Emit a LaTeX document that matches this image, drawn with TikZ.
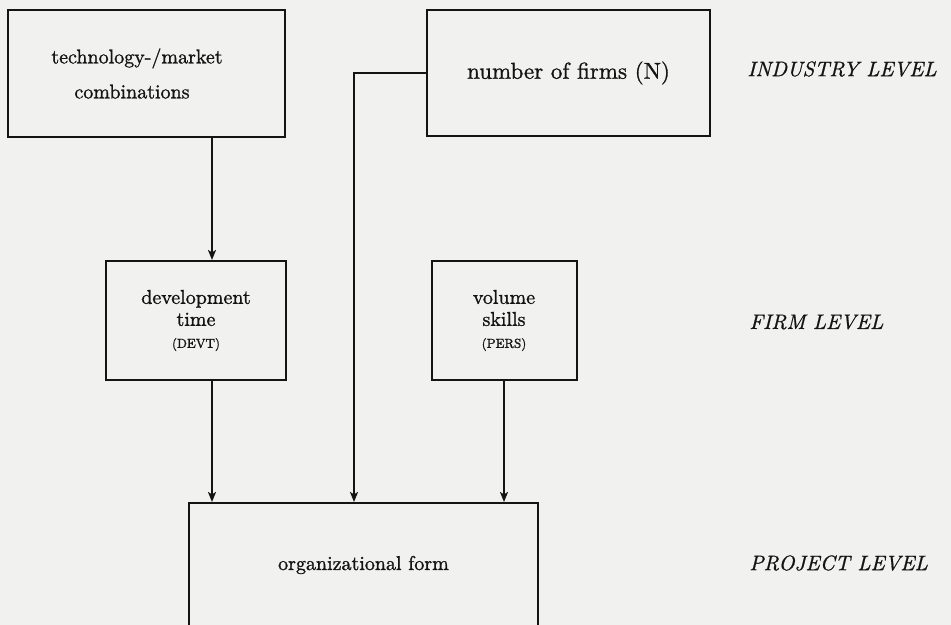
\documentclass[tikz,border=0pt]{standalone}
\usepackage{fontspec}
\newfontfamily\heavy{lmroman10-regular.otf}[FakeBold=1.2]
\newfontfamily\heavyit{lmroman10-italic.otf}[FakeBold=0.8]
\usetikzlibrary{arrows.meta}
\definecolor{paper}{RGB}{241,241,239}
\definecolor{ink}{RGB}{20,20,20}
\begin{document}
\begin{tikzpicture}[x=0.5pt,y=-0.5pt,
  box/.style={draw=ink, text=ink, line width=1pt, inner sep=0pt, align=center,
              font=\heavy\fontsize{10}{11}\selectfont},
  arr/.style={draw=ink, line width=0.9pt, -{Stealth[length=5pt,width=4pt,inset=1.2pt]}},
  lvl/.style={anchor=west, inner sep=0pt, text=ink, font=\heavyit\fontsize{10.5}{12}\selectfont}]
\fill[paper] (0,0) rectangle (951,625);
\useasboundingbox (0,0) rectangle (951,625);
\clip (0,0) rectangle (951,625);

\node[box, minimum width=138.5pt, minimum height=63.5pt, font=\heavy\fontsize{10}{17.5}\selectfont]
  (tm) at (146.5,73.5) {technology-/market\hspace*{9.5pt}\\combinations\hspace*{14.5pt}};
\node[box, minimum width=141.5pt, minimum height=63pt, font=\heavy\fontsize{11.5}{14}\selectfont]
  (nf) at (568.5,73) {number of firms (N)};
\node[box, minimum width=90pt, minimum height=59.5pt]
  (dev) at (196,320.5) {development\\time\\{\fontsize{6.5}{8}\selectfont (DEVT)}};
\node[box, minimum width=72.5pt, minimum height=59.5pt]
  (vol) at (504,320.5) {volume\\skills\\{\fontsize{6.5}{8}\selectfont (PERS)}};
\node[box, minimum width=174.5pt, minimum height=62pt]
  (org) at (363.5,565) {organizational form};

\node[lvl] (il) at (747,69) {INDUSTRY LEVEL};
\node[lvl] (fl) at (749,322) {FIRM LEVEL};
\node[lvl] (pl) at (749,563) {PROJECT LEVEL};

\coordinate (cx) at (212,0);
\coordinate (mx) at (354,0);
\draw[arr] (tm.south -| cx) -- (dev.north -| cx);
\draw[arr] (dev.south -| cx) -- (org.north -| cx);
\draw[arr] (nf.west) -| (mx |- org.north);
\draw[arr] (vol.south) -- (vol.south |- org.north);
\end{tikzpicture}
\end{document}
